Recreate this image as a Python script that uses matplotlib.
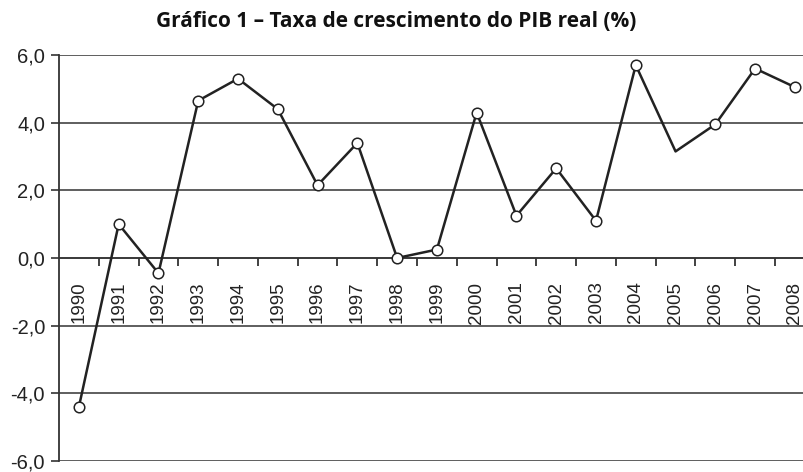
import numpy as np
import matplotlib
matplotlib.use("Agg")
import matplotlib.pyplot as plt

anos = ['1990', '1991', '1992', '1993', '1994', '1995', '1996', '1997', '1998', '1999',
        '2000', '2001', '2002', '2003', '2004', '2005', '2006', '2007', '2008']
pib = [-4.4, 1.0, -0.45, 4.65, 5.3, 4.4, 2.15, 3.4, 0.0, 0.25,
       4.3, 1.25, 2.65, 1.1, 5.7, 3.15, 3.95, 5.6, 5.05]
# 2005 is drawn without a marker
sem_marcador = ['2005']

plt.rcParams['font.family'] = ['Liberation Sans', 'DejaVu Sans']

fig = plt.figure(figsize=(8.04, 4.72), dpi=100)
ax = fig.add_axes([0.0734, 0.0233, 0.94, 0.8602])

x = np.arange(len(anos))
cor = '#222222'
ax.plot(x, pib, color=cor, lw=1.8, zorder=3)
idx = [i for i, a in enumerate(anos) if a not in sem_marcador]
ax.plot(x[idx], np.array(pib)[idx], ls='none', marker='o', ms=7.6,
        mfc='white', mec=cor, mew=1.1, zorder=4)

ax.set_xlim(-0.5, len(anos) - 0.5)
ax.set_ylim(-6, 6)
ax.set_yticks(np.arange(-6, 7, 2))
ax.set_yticklabels([f'{v:.1f}'.replace('.', ',') for v in np.arange(-6, 7, 2)])
ax.grid(axis='y', color='#333333', lw=1.1)
ax.set_axisbelow(True)

for s in ['top', 'right']:
    ax.spines[s].set_visible(False)
ax.spines['left'].set_color('#333333')
ax.spines['left'].set_linewidth(1.3)
ax.spines['bottom'].set_position(('data', 0))
ax.spines['bottom'].set_color('#333333')
ax.spines['bottom'].set_linewidth(1.1)

ax.set_xticks(x)
ax.set_xticklabels(anos, rotation=90, va='top', ha='center')
ax.set_xticks(x[:-1] + 0.5, minor=True)
ax.tick_params(axis='x', which='major', length=0, pad=17, labelsize=13.5, labelcolor='#222222')
ax.tick_params(axis='x', which='minor', length=6, width=1.3, color='#333333', direction='out')
ax.tick_params(axis='y', length=6, width=1.2, color='#333333', pad=4, labelsize=14.5,
               labelcolor='#222222')

fig.text(0.493, 0.955, 'Gráfico 1 – Taxa de crescimento do PIB real (%)',
         ha='center', va='center', fontsize=15, fontweight='bold',
         family=['Open Sans', 'DejaVu Sans'], color='#111111')

fig.savefig('out.png', dpi=100)
